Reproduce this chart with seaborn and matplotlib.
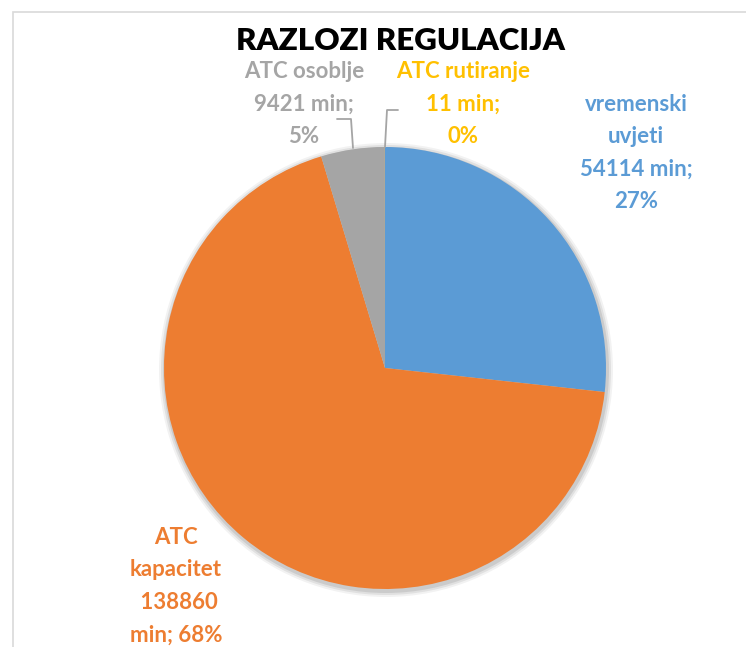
import numpy as np
import seaborn as sns
import matplotlib.pyplot as plt
from matplotlib.patches import Rectangle, Circle

# data
categories = ["vremenski uvjeti", "ATC kapacitet", "ATC osoblje", "ATC rutiranje"]
minutes = [54114, 138860, 9421, 11]
percents = [27, 68, 5, 0]
colors = ["#5B9BD5", "#ED7D31", "#A5A5A5", "#FFC000"]

label_texts = [
    "vremenski\nuvjeti\n{} min;\n{}%",
    "ATC\nkapacitet\n {}\nmin; {}%",
    "{} osoblje\n{} min;\n{}%",
    "{} rutiranje\n{} min;\n{}%",
]

sns.set_theme(style="white")
plt.rcParams['font.family'] = ['Lato', 'DejaVu Sans']

W, H = 746, 647
fig = plt.figure(figsize=(W / 100, H / 100), dpi=100)
ax = fig.add_axes([0, 0, 1, 1])

# outer chart border
fig.patches.append(Rectangle((13 / W, -0.1), 1.2, (H - 12) / H + 0.1,
                             transform=fig.transFigure, fill=False,
                             edgecolor="#D9D9D9", linewidth=1.2))

cx, cy, r = 385, 368, 221

# soft shadow round the pie
for k, a in zip([6, 4, 2], [0.05, 0.07, 0.09]):
    ax.add_patch(Circle((cx + 1, cy + 2), r + k, color="black", alpha=a, lw=0, zorder=0))

# y axis is inverted below, so counterclock in data is clockwise on screen
ax.pie(minutes, colors=colors, startangle=-90, counterclock=True,
       center=(cx, cy), radius=r, wedgeprops=dict(linewidth=0))

ax.set_xlim(0, W)
ax.set_ylim(H, 0)
ax.set_aspect("auto")
ax.axis("off")

fs = 16
ls = 1.68
ax.text(636, 153, label_texts[0].format(minutes[0], percents[0]), color=colors[0],
        fontsize=fs, fontweight="bold", ha="center", va="center", linespacing=ls)
ax.text(176, 586, label_texts[1].format(minutes[1], percents[1]), color=colors[1],
        fontsize=fs, fontweight="bold", ha="center", va="center", linespacing=ls)
ax.text(304, 104, label_texts[2].format("ATC", minutes[2], percents[2]), color=colors[2],
        fontsize=fs, fontweight="bold", ha="center", va="center", linespacing=ls)
ax.text(463, 104, label_texts[3].format("ATC", minutes[3], percents[3]), color=colors[3],
        fontsize=fs, fontweight="bold", ha="center", va="center", linespacing=ls)

# leader lines
ax.plot([337, 351, 353], [119, 119, 148], color="#A5A5A5", lw=1.3)
ax.plot([398, 387, 385], [110, 110, 147], color="#A5A5A5", lw=1.3)

ax.text(401, 41, "RAZLOZI REGULACIJA", fontsize=22.5, fontweight="heavy",
        color="black", ha="center", va="center")

fig.savefig("out.png", dpi=100, facecolor="white")
